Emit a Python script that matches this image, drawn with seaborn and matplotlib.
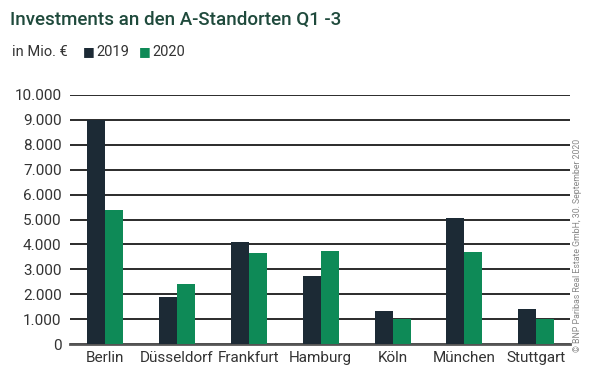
import matplotlib.pyplot as plt
import seaborn as sns
import pandas as pd
from matplotlib.ticker import FuncFormatter

# Daten
staedte = ["Berlin", "Düsseldorf", "Frankfurt", "Hamburg", "Köln", "München", "Stuttgart"]
werte_2019 = [9000, 1900, 4110, 2740, 1340, 5060, 1390]
werte_2020 = [5380, 2410, 3670, 3750, 1000, 3710, 1020]
jahre = ["2019", "2020"]
farben = ["#1c2a35", "#0e8a57"]

df = pd.DataFrame({"Stadt": staedte * 2,
                   "Jahr": [jahre[0]] * 7 + [jahre[1]] * 7,
                   "Wert": werte_2019 + werte_2020})

sns.set_style("white")
plt.rcParams["font.family"] = ["Roboto", "DejaVu Sans"]

fig = plt.figure(figsize=(6, 3.84), dpi=100)
ax = fig.add_axes([70 / 600, 40 / 384, 500 / 600, 249 / 384])

sns.barplot(data=df, x="Stadt", y="Wert", hue="Jahr", palette=farben,
            width=0.5, saturation=1, ax=ax, legend=False, zorder=3, linewidth=0)

ax.set_ylim(0, 10000)
ax.set_xlim(-0.49, 6.47)
ax.set_yticks(range(0, 10001, 1000))
ax.yaxis.set_major_formatter(FuncFormatter(lambda v, p: f"{int(v):,}".replace(",", ".")))
ax.grid(axis="y", color="#1a1a1a", linewidth=1.3, zorder=0)
ax.set_axisbelow(True)
for s in ["left", "right", "top"]:
    ax.spines[s].set_visible(False)
ax.spines["bottom"].set_color("#555555")
ax.spines["bottom"].set_linewidth(2)
ax.tick_params(axis="both", length=0, labelsize=11, colors="#333333", pad=6)
ax.tick_params(axis="x", pad=5)
ax.set_xlabel("")
ax.set_ylabel("")

# Titel und Legende
fig.text(10 / 600, 1 - 20 / 384, "Investments an den A-Standorten Q1 -3",
         fontsize=13.5, fontweight="medium", color="#1f4a3c", va="center", ha="left")
fig.text(12 / 600, 1 - 52 / 384, "in Mio. €", fontsize=10.5, color="#333333", va="center")
fig.text(83 / 600, 1 - 52 / 384, "■", fontsize=9, color=farben[0], va="center")
fig.text(96 / 600, 1 - 52 / 384, jahre[0], fontsize=10.5, color="#333333", va="center")
fig.text(139 / 600, 1 - 52 / 384, "■", fontsize=9, color=farben[1], va="center")
fig.text(152 / 600, 1 - 52 / 384, jahre[1], fontsize=10.5, color="#333333", va="center")

fig.text(578 / 600, 1 - 245 / 384, "© BNP Paribas Real Estate GmbH, 30. September 2020",
         fontsize=6.3, color="#888888", rotation=90, va="center", ha="center")

fig.savefig("out.png", dpi=100, facecolor="white")
